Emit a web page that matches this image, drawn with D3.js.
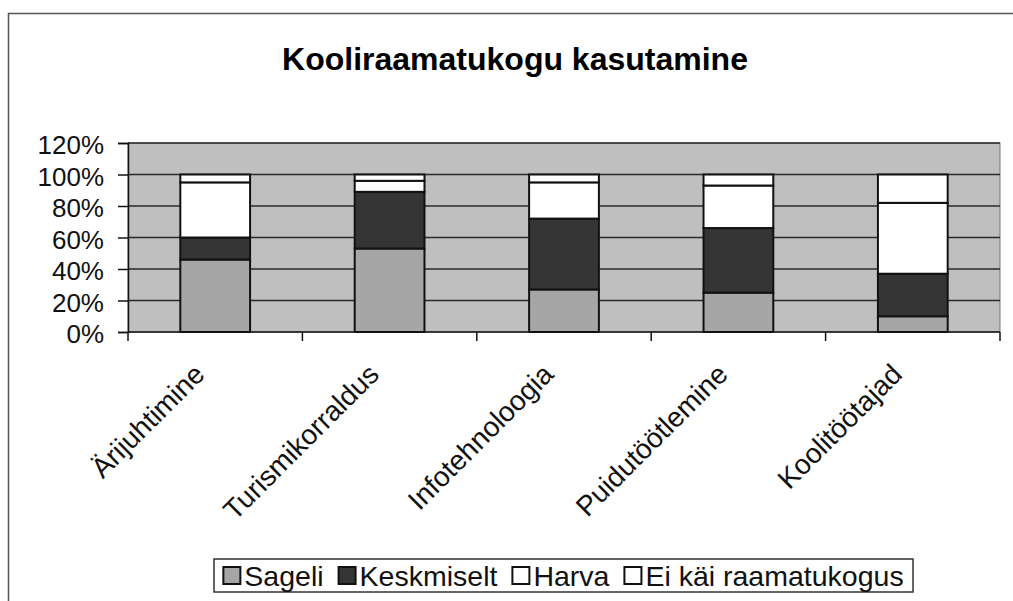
<!DOCTYPE html>
<html>
<head>
<meta charset="utf-8">
<script src="https://cdn.jsdelivr.net/npm/d3@7"></script>
<style>
	body { margin: 0; background: #fff; }
	svg { display: block; font-family: Arial, "Liberation Sans", sans-serif; }
</style>
</head>
<body>
<script>

// chart data
const categories = ["Ärijuhtimine", "Turismikorraldus", "Infotehnoloogia", "Puidutöötlemine", "Koolitöötajad"];
const seriesNames = ["Sageli", "Keskmiselt", "Harva", "Ei käi raamatukogus"];
const sageli = [46, 53, 27, 25, 10];
const keskmiselt = [14, 36, 45, 41, 27];
const harva = [35, 7, 23, 27, 45];
const eiKai = [5, 4, 5, 7, 18];
const yTicks = [0, 20, 40, 60, 80, 100, 120];

// SVG Size
let width = 1013,
	height = 601;

// plot area inside the chart frame
let plot = {left: 128, right: 1000, top: 143, bottom: 332};

// build rows for d3.stack
let rows = categories.map(function(c, i) {
	return {
		category: c,
		"Sageli": sageli[i],
		"Keskmiselt": keskmiselt[i],
		"Harva": harva[i],
		"Ei käi raamatukogus": eiKai[i]
	};
});

let stacked = d3.stack().keys(seriesNames)(rows);

let svg = d3.select("body").append("svg")
	.attr("width", width)
	.attr("height", height);

// outer chart frame
svg.append("rect")
	.attr("x", 8.5)
	.attr("y", 13.5)
	.attr("width", width)
	.attr("height", height)
	.attr("fill", "#fff")
	.attr("stroke", "#555")
	.attr("stroke-width", 1.5);

// title
svg.append("text")
	.attr("x", 515)
	.attr("y", 70)
	.attr("text-anchor", "middle")
	.attr("font-size", 32)
	.attr("font-weight", "bold")
	.text("Kooliraamatukogu kasutamine");

// scales
const xScale = d3.scaleBand()
	.domain(categories)
	.range([plot.left, plot.right])
	.paddingInner(0.6)
	.paddingOuter(0.3);

const yScale = d3.scaleLinear()
	.domain([0, 120])
	.range([plot.bottom, plot.top]);

const colorScale = d3.scaleOrdinal()
	.domain(seriesNames)
	.range(["#a6a6a6", "#353535", "#ffffff", "#ffffff"]);

// grey plot background
svg.append("rect")
	.attr("x", plot.left)
	.attr("y", plot.top)
	.attr("width", plot.right - plot.left)
	.attr("height", plot.bottom - plot.top)
	.attr("fill", "#bfbfbf")
	.attr("stroke", "#777")
	.attr("stroke-width", 1);

// horizontal gridlines
svg.append("g")
	.selectAll("line")
	.data(yTicks.slice(1))
	.enter()
	.append("line")
	.attr("x1", plot.left)
	.attr("x2", plot.right)
	.attr("y1", function(d) { return yScale(d); })
	.attr("y2", function(d) { return yScale(d); })
	.attr("stroke", "#2a2a2a")
	.attr("stroke-width", 1.5);

// stacked bars
svg.append("g")
	.selectAll("g")
	.data(stacked)
	.enter()
	.append("g")
	.attr("fill", function(d) { return colorScale(d.key); })
	.selectAll("rect")
	.data(function(d) { return d; })
	.enter()
	.append("rect")
	.attr("x", function(d) { return xScale(d.data.category); })
	.attr("y", function(d) { return yScale(d[1]); })
	.attr("width", xScale.bandwidth())
	.attr("height", function(d) { return yScale(d[0]) - yScale(d[1]); })
	.attr("stroke", "#111")
	.attr("stroke-width", 2);

// y axis
let yAxis = d3.axisLeft(yScale)
	.tickValues(yTicks)
	.tickSize(10)
	.tickPadding(14)
	.tickFormat(function(d) { return d + "%"; });

let yG = svg.append("g")
	.attr("transform", "translate(" + plot.left + ",0)")
	.call(yAxis);

yG.select(".domain").attr("stroke", "#111").attr("stroke-width", 1.5);
yG.selectAll(".tick line").attr("stroke", "#111").attr("stroke-width", 1.5);
yG.selectAll(".tick text")
	.attr("font-size", 26)
	.attr("font-family", "Arial, 'Liberation Sans', sans-serif")
	.attr("fill", "#111")
	.attr("dy", "0.42em");

// x axis: ticks sit between the categories
let xAxisLine = svg.append("g");
xAxisLine.append("line")
	.attr("x1", plot.left)
	.attr("x2", plot.right)
	.attr("y1", plot.bottom)
	.attr("y2", plot.bottom)
	.attr("stroke", "#111")
	.attr("stroke-width", 1.5);

let boundaries = categories.map(function(c) {
	return xScale(c) - xScale.step() * xScale.paddingInner() / 2;
});
boundaries.push(plot.right);

xAxisLine.selectAll(".xtick")
	.data(boundaries)
	.enter()
	.append("line")
	.attr("class", "xtick")
	.attr("x1", function(d) { return d; })
	.attr("x2", function(d) { return d; })
	.attr("y1", plot.bottom)
	.attr("y2", plot.bottom + 9)
	.attr("stroke", "#111")
	.attr("stroke-width", 1.5);

// rotated category labels
svg.append("g")
	.selectAll("text")
	.data(categories)
	.enter()
	.append("text")
	.attr("transform", function(d) {
		return "translate(" + (xScale(d) + xScale.bandwidth() / 2 - 9) + "," + 376 + ") rotate(-45)";
	})
	.attr("text-anchor", "end")
	.attr("font-size", 28)
	.attr("fill", "#111")
	.text(function(d) { return d; });

// legend
let legendBox = {x: 214, y: 559, w: 699, h: 33};

svg.append("rect")
	.attr("x", legendBox.x)
	.attr("y", legendBox.y)
	.attr("width", legendBox.w)
	.attr("height", legendBox.h)
	.attr("fill", "#fff")
	.attr("stroke", "#333")
	.attr("stroke-width", 1.5);

const swatch = 17,
	swatchGap = 4,
	itemGap = 15;

let legend = svg.append("g");

let items = legend.selectAll("g")
	.data(seriesNames)
	.enter()
	.append("g");

items.append("rect")
	.attr("width", swatch)
	.attr("height", swatch)
	.attr("y", -swatch / 2)
	.attr("fill", function(d) { return colorScale(d); })
	.attr("stroke", "#111")
	.attr("stroke-width", 2);

items.append("text")
	.attr("x", swatch + swatchGap)
	.attr("dy", "0.36em")
	.attr("font-size", 28.5)
	.attr("fill", "#111")
	.text(function(d) { return d; });

// lay items out one after another, centered in the box
let offsets = [],
	cursor = 0;
items.each(function() {
	offsets.push(cursor);
	let textLen = d3.select(this).select("text").node().getComputedTextLength();
	cursor += swatch + swatchGap + textLen + itemGap;
});
let total = cursor - itemGap;
let startX = legendBox.x + (legendBox.w - total) / 2;

items.attr("transform", function(d, i) {
	return "translate(" + (startX + offsets[i]) + "," + (legendBox.y + legendBox.h / 2) + ")";
});

</script>
</body>
</html>
